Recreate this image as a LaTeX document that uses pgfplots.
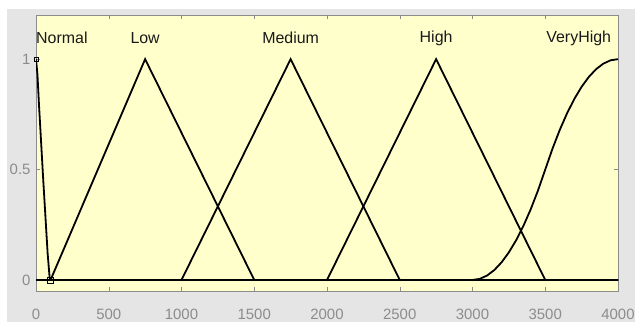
\documentclass[border=0pt]{standalone}
\usepackage{pgfplots}
\pgfplotsset{compat=1.18}
\usepackage{fontspec}
\setmainfont{Liberation Sans}
\definecolor{bgyel}{HTML}{FFFFCC}
\definecolor{outer}{HTML}{E5E5E5}
\definecolor{axgray}{HTML}{8C8C8C}
\begin{document}
\begin{tikzpicture}
\useasboundingbox (0bp,0bp) rectangle (635bp,322bp);
\fill[white] (0bp,0bp) rectangle (635bp,322bp);
\fill[outer] (7bp,0bp) rectangle (635bp,312.5bp);
\begin{axis}[
  at={(36bp,31bp)}, anchor=south west, scale only axis,
  width=582bp, height=276bp,
  xmin=0, xmax=4000, ymin=-0.05, ymax=1.2,
  xtick={0,500,...,4000}, ytick={0,0.5,1},
  axis background/.style={fill=bgyel},
  axis line style={axgray},
  tick style={axgray},
  major tick length=4bp,
  tick align=inside,
  ticklabel style={font=\fontsize{15}{15}\selectfont, text=axgray},
  /pgf/number format/assume math mode=true,
  /pgf/number format/1000 sep={},
  scaled x ticks=false,
  xticklabel style={yshift=-15bp},
  yticklabel style={xshift=-2bp},
  mf/.style={black, line width=1.8bp, mark=none},
]
% Normal
\addplot[mf] coordinates {(0,1) (10,0.93) (20,0.8) (50,0.45) (80,0.12) (95,0) (4000,0)};
% Low
\addplot[mf] coordinates {(0,0) (100,0) (750,1) (1500,0) (4000,0)};
% Medium
\addplot[mf] coordinates {(0,0) (1000,0) (1750,1) (2500,0) (4000,0)};
% High
\addplot[mf] coordinates {(0,0) (2000,0) (2750,1) (3500,0) (4000,0)};
% VeryHigh
\addplot[mf] coordinates {(0,0) (3000,0) (3050,0.005) (3100,0.02) (3150,0.045) (3200,0.08) (3250,0.125) (3300,0.18) (3350,0.245) (3400,0.32) (3450,0.405) (3500,0.5) (3550,0.595) (3600,0.68) (3650,0.755) (3700,0.82) (3750,0.875) (3800,0.92) (3850,0.955) (3900,0.98) (3950,0.995) (4000,1)};
% selection markers
\addplot[black, only marks, mark=square, mark size=2bp, line width=0.6bp] coordinates {(0,1)};
\addplot[black, only marks, mark=square, mark size=3bp, line width=0.6bp] coordinates {(100,0)};
% labels
\begin{scope}[every node/.style={font=\fontsize{16}{16}\selectfont, inner sep=0pt, text=black!90}]
\node[anchor=west] at (axis cs:0,1.095) {Normal};
\node at (axis cs:750,1.095) {Low};
\node at (axis cs:1750,1.095) {Medium};
\node at (axis cs:2750,1.095) {High};
\node at (axis cs:3730,1.095) {VeryHigh};
\end{scope}
\end{axis}
\end{tikzpicture}
\end{document}
